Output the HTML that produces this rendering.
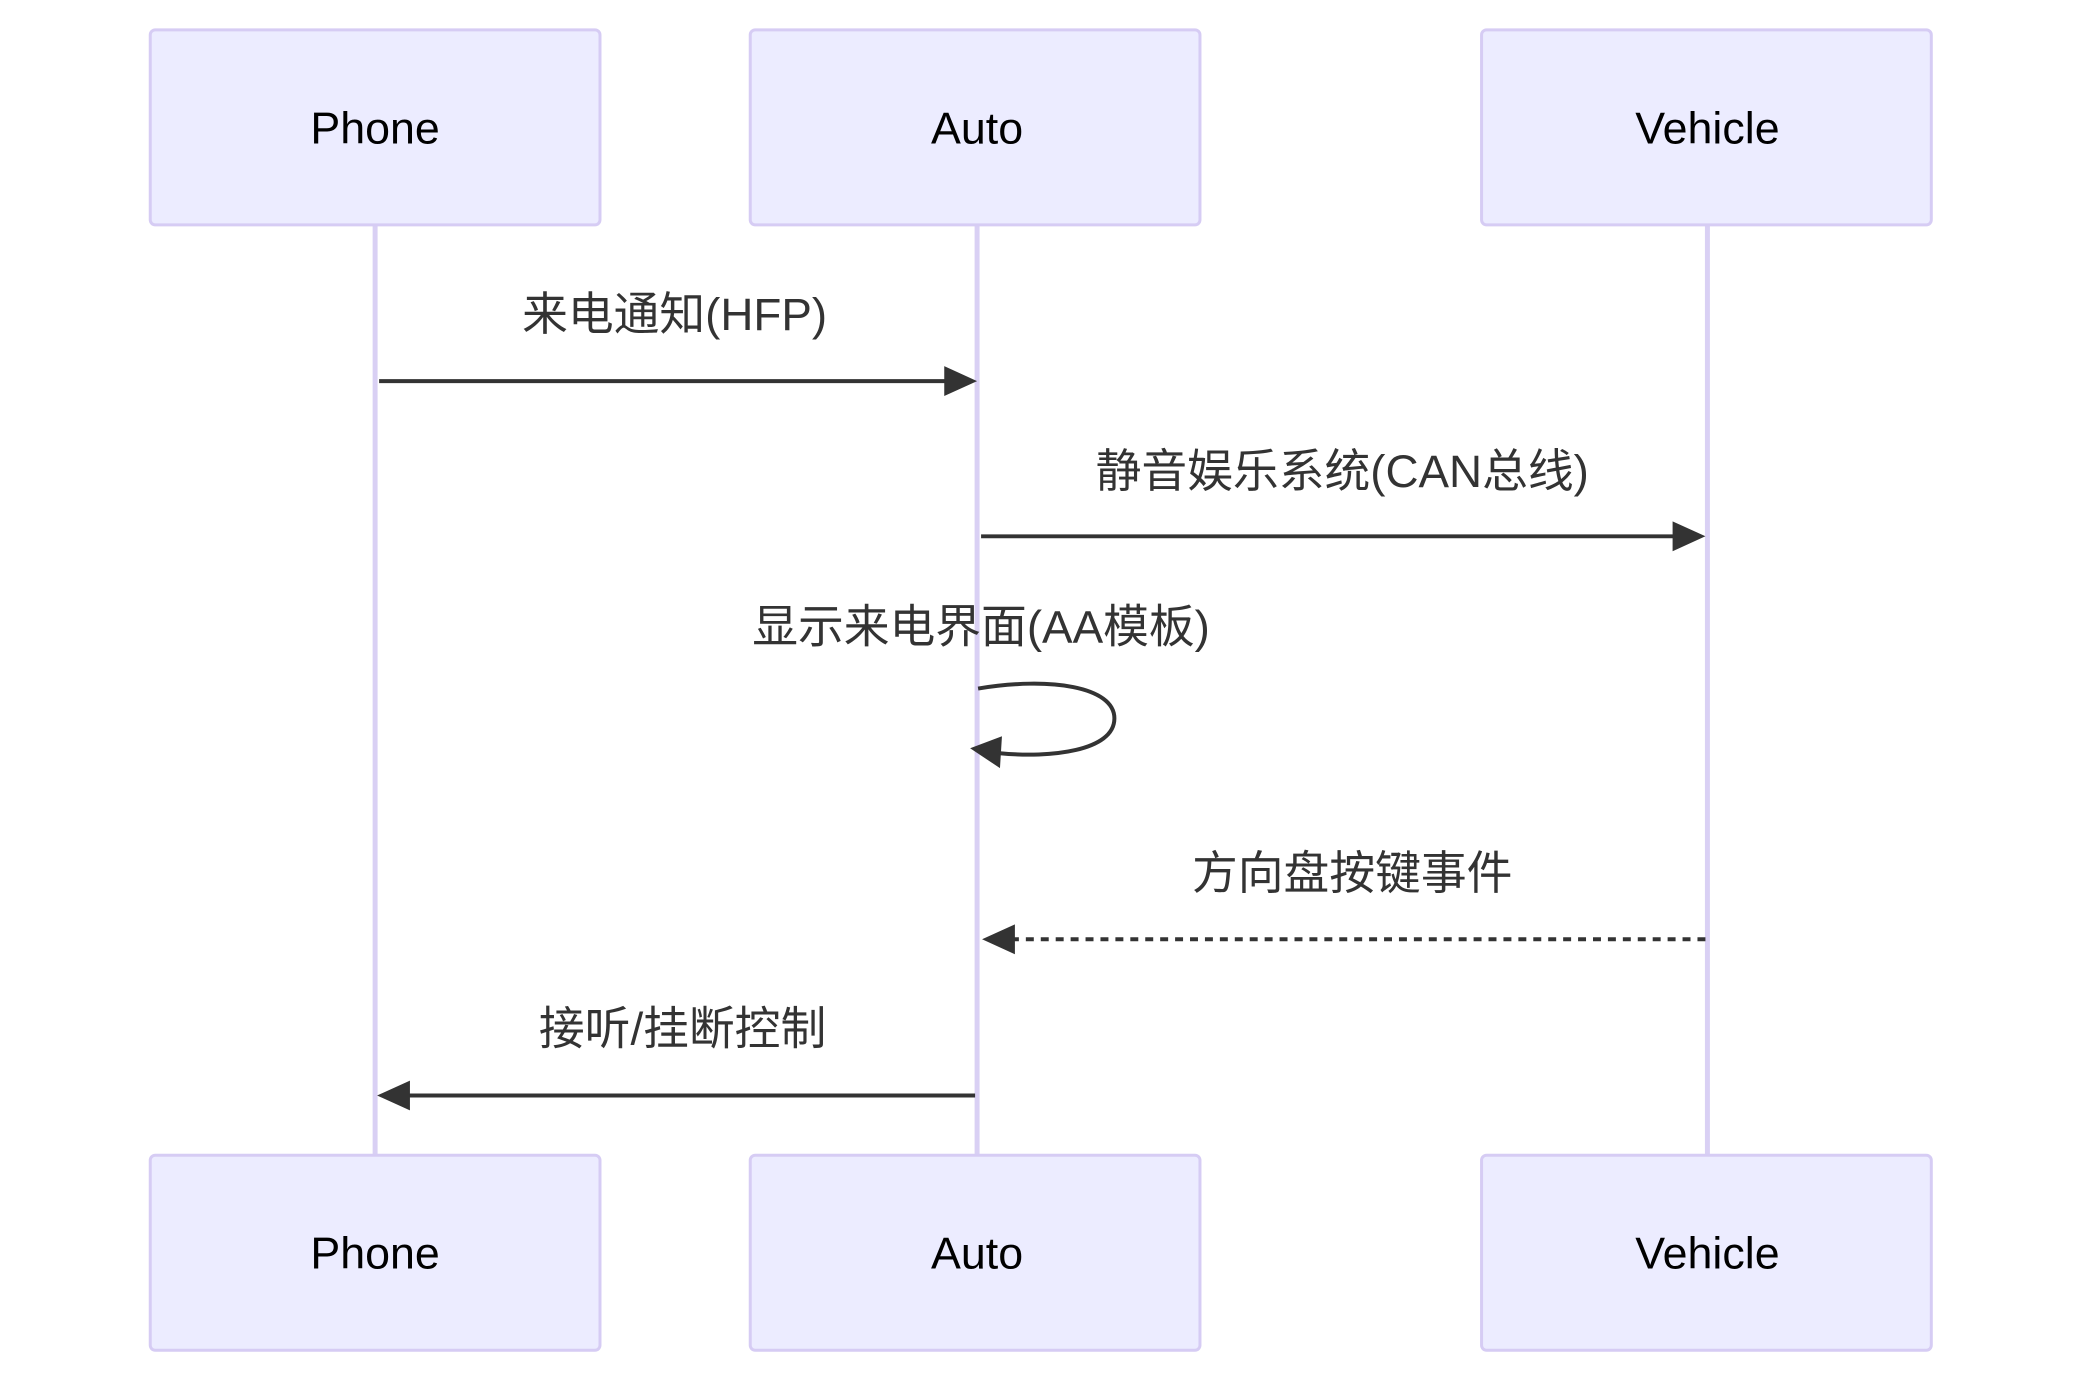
<!DOCTYPE html>
<html><head><meta charset="utf-8"><style>
html,body{margin:0;padding:0;background:#fff;}
svg{display:block;}
text{font-family:"Liberation Sans","Noto Sans CJK SC",sans-serif;}
</style></head><body>
<svg width="2082" height="1383" viewBox="0 0 2082 1383" xmlns="http://www.w3.org/2000/svg">
<g transform="scale(0.995)">
<g stroke="#d9d0f4" stroke-width="5">
<line x1="377" y1="226" x2="377" y2="1161"/>
<line x1="982" y1="226" x2="982" y2="1161"/>
<line x1="1716" y1="226" x2="1716" y2="1161"/>
</g>
<g fill="#ececff" stroke="#d6ccf4" stroke-width="3">
<rect x="151" y="30" width="452" height="196" rx="5"/>
<rect x="754" y="30" width="452" height="196" rx="5"/>
<rect x="1489" y="30" width="452" height="196" rx="5"/>
<rect x="151" y="1161" width="452" height="196" rx="5"/>
<rect x="754" y="1161" width="452" height="196" rx="5"/>
<rect x="1489" y="1161" width="452" height="196" rx="5"/>
</g>
<g font-size="45" fill="#000" text-anchor="middle" dominant-baseline="central">
<text x="377" y="129">Phone</text>
<text x="982" y="129">Auto</text>
<text x="1716" y="129">Vehicle</text>
<text x="377" y="1260">Phone</text>
<text x="982" y="1260">Auto</text>
<text x="1716" y="1260">Vehicle</text>
</g>
<g font-size="46" fill="#333" text-anchor="middle" dominant-baseline="central">
<text x="678" y="316">来电通知(HFP)</text>
<text x="1349" y="474">静音娱乐系统(CAN总线)</text>
<text x="986" y="630">显示来电界面(AA模板)</text>
<text x="1359" y="878">方向盘按键事件</text>
<text x="686" y="1034">接听/挂断控制</text>
</g>
<g stroke="#333" stroke-width="4" fill="none">
<line x1="381" y1="383" x2="950" y2="383"/>
<line x1="986" y1="539" x2="1683" y2="539"/>
<path d="M983,692 C1055,680 1120,690 1120,722 C1120,755 1055,762 1005,757"/>
<line x1="1714" y1="944" x2="1017" y2="944" stroke-dasharray="8,7"/>
<line x1="980" y1="1101" x2="411" y2="1101"/>
</g>
<g fill="#333">
<polygon points="982,383 949,368 949,398"/>
<polygon points="1714,539 1681,524 1681,554"/>
<polygon points="975,752 1007,740 1005,772"/>
<polygon points="987,944 1020,929 1020,959"/>
<polygon points="379,1101 412,1086 412,1116"/>
</g>
</g>
</svg>
</body></html>
